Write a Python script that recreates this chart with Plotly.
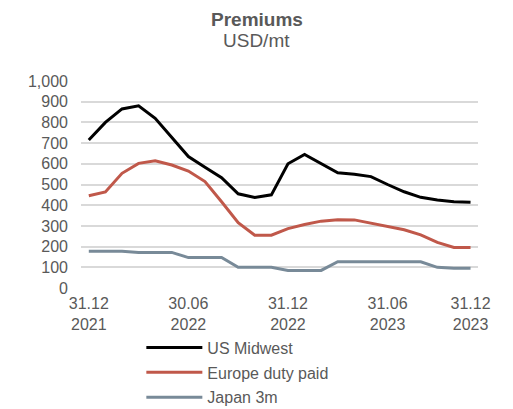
import plotly.graph_objects as go

x_idx = list(range(24))
tick_vals = [0, 6, 12, 18, 23]
tick_text = ["31.12<br>2021", "30.06<br>2022", "31.12<br>2022", "31.06<br>2023", "31.12<br>2023"]

us_midwest = [715, 800, 865, 880, 820, 725, 635, 583, 533, 455, 437, 450,
              600, 645, 600, 557, 550, 538, 500, 465, 438, 425, 417, 414]
europe = [446, 464, 554, 602, 615, 594, 565, 514, 417, 316, 255, 255,
          287, 307, 323, 330, 329, 313, 297, 281, 257, 220, 196, 196]
japan = [177, 177, 177, 172, 172, 172, 147, 147, 147, 100, 100, 100,
         85, 85, 85, 127, 127, 127, 127, 127, 127, 100, 96, 96]

series = [
    ("US Midwest", us_midwest, "#000000"),
    ("Europe duty paid", europe, "#C0584A"),
    ("Japan 3m", japan, "#788A98"),
]

fig = go.Figure()
for name, vals, color in series:
    fig.add_trace(go.Scatter(x=x_idx, y=vals, mode="lines", name=name,
                             legendgroup=name,
                             line=dict(color=color, width=3)))

font_family = "Liberation Sans, Arial, sans-serif"
text_color = "#595959"
fig.update_layout(
    width=513, height=409,
    margin=dict(l=81, r=35, t=81, b=121, autoexpand=False),
    paper_bgcolor="white", plot_bgcolor="white",
    font=dict(family=font_family, size=16, color=text_color),
    xaxis=dict(range=[-0.47, 23.45], tickvals=tick_vals, ticktext=tick_text,
               showgrid=False, zeroline=False, showline=False, ticks="",
               ticklabelstandoff=4,
               tickfont=dict(size=16, color=text_color)),
    yaxis=dict(range=[0, 1000], dtick=100, tickformat=",d",
               showgrid=True, gridcolor="#D9D9D9", gridwidth=1.5,
               zeroline=False, showline=False, ticks="", ticklabelstandoff=12,
               tickfont=dict(size=16, color=text_color)),
    legend=dict(x=0.152, y=-0.206, xanchor="left", yanchor="top",
                orientation="v", itemwidth=56, tracegroupgap=1,
                traceorder="grouped",
                font=dict(size=16, color=text_color),
                bgcolor="rgba(0,0,0,0)"),
    showlegend=True,
    annotations=[
        dict(text="<b>Premiums</b>", xref="paper", yref="paper",
             x=0.443, y=1.297, xanchor="center", yanchor="middle",
             showarrow=False, font=dict(size=19, color=text_color)),
        dict(text="USD/mt", xref="paper", yref="paper",
             x=0.443, y=1.196, xanchor="center", yanchor="middle",
             showarrow=False, font=dict(size=19, color=text_color)),
    ],
)

fig.write_html("out.html", config={"displayModeBar": False},
               post_script="document.body.style.margin='0px';")
